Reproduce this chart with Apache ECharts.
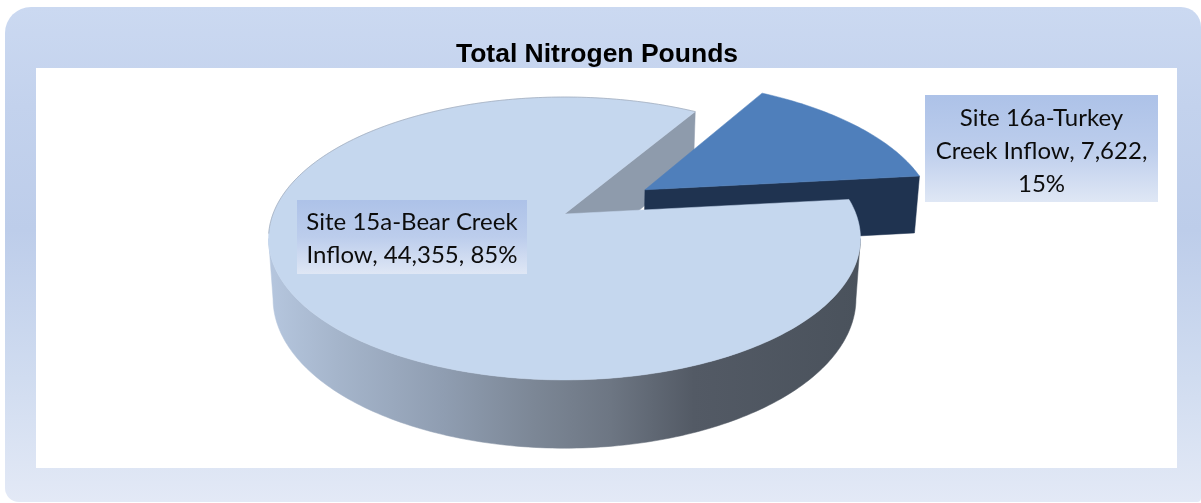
<!DOCTYPE html>
<html><head><meta charset="utf-8">
<style>html,body{margin:0;padding:0;background:#fff}#c{width:1201px;height:503px}</style>
<script src="https://cdn.jsdelivr.net/npm/echarts@6/dist/echarts.min.js"></script>
</head><body><div id="c"></div>
<script>
const chartTitle = 'Total Nitrogen Pounds';
const sites = ['Site 15a-Bear Creek Inflow', 'Site 16a-Turkey Creek Inflow'];
const pounds = [44355, 7622];
const percents = [85, 15];
const labelTexts = ['Site 15a-Bear Creek\nInflow, 44,355, 85%', 'Site 16a-Turkey\nCreek Inflow, 7,622,\n15%'];

// view model of the tilted disc
const C = {x: 564.5, y: 214}, RX = 291.5, RY = 137.2, K = 0.173, M = 0.015, H = 60;
const EXPLODE = [0, 0.338];
const TURKEY_START = 31;
const BOXES = [[297, 200, 230, 74], [925, 95, 233, 107]];
const LABEL_DY = [2, 3];
const total = pounds[0] + pounds[1];
const span = pounds[1] / total * 360;
const sweep = [[TURKEY_START + span, TURKEY_START + 360], [TURKEY_START, TURKEY_START + span]];

function proj(u, v, z) {
  const w = 1 - K * v + M * z;
  return [C.x + RX * u / w, C.y + (RY * v + H * z) / w];
}
function offset(i) {
  const mid = (sweep[i][0] + sweep[i][1]) / 2 * Math.PI / 180;
  return [EXPLODE[i] * Math.sin(mid), -EXPLODE[i] * Math.cos(mid)];
}
function rim(i, deg, z) {
  const a = deg * Math.PI / 180, o = offset(i);
  return proj(o[0] + Math.sin(a), o[1] - Math.cos(a), z);
}
function apex(i, z) { const o = offset(i); return proj(o[0], o[1], z); }
function arc(i, from, to, z) {
  const pts = [], n = Math.max(2, Math.ceil(Math.abs(to - from)));
  for (let s = 0; s <= n; s++) pts.push(rim(i, from + (to - from) * s / n, z));
  return pts;
}
const wallGrad = new echarts.graphic.LinearGradient(266, 0, 860, 0, [
  {offset: 0, color: '#b6c7df'}, {offset: 0.12, color: '#a5b5cb'}, {offset: 0.3, color: '#8f9db1'},
  {offset: 0.45, color: '#7c8796'}, {offset: 0.58, color: '#6d7683'}, {offset: 0.72, color: '#535a65'},
  {offset: 1, color: '#4a525c'}], true);
const boxGrad = new echarts.graphic.LinearGradient(0, 0, 0, 1, [
  {offset: 0, color: '#adc2e8'}, {offset: 0.5, color: '#bccdec'}, {offset: 1, color: '#dfe7f5'}]);

function poly(points, fill, z2) {
  return {type: 'polygon', z2, shape: {points}, style: {fill, stroke: fill, lineWidth: 0.5}};
}
function renderItem(params, api) {
  const i = params.dataIndex, kids = [];
  const [a0, a1] = sweep[i];
  if (i === 0) {
    kids.push(poly([apex(0, 0), rim(0, a1, 0), rim(0, a1, 1), apex(0, 1)], '#8e9bac', 1));
    const top = arc(0, 100, 260, 0), bottom = arc(0, 260, 100, 1);
    kids.push(poly(top.concat(bottom), wallGrad, 5));
    kids.push(poly([apex(0, 0)].concat(arc(0, a0, a1, 0)), '#c5d7ee', 6));
    kids.push({type: 'polyline', z2: 7, shape: {points: arc(0, 262, a1, 0)},
      style: {fill: null, stroke: 'rgba(150,160,175,0.6)', lineWidth: 1}});
  } else {
    kids.push(poly([apex(1, 0), rim(1, a1, 0), rim(1, a1, 1), apex(1, 1)], '#1f3350', 2));
    kids.push(poly([apex(1, 0)].concat(arc(1, a0, a1, 0)), '#4f7fbb', 3));
  }
  const b = BOXES[i];
  kids.push({type: 'rect', z2: 10, shape: {x: b[0], y: b[1], width: b[2], height: b[3]}, style: {fill: boxGrad}});
  kids.push({type: 'text', z2: 11, style: {
    x: b[0] + b[2] / 2, y: b[1] + b[3] / 2 + LABEL_DY[i], text: labelTexts[i], align: 'center', verticalAlign: 'middle',
    font: '24px Lato', lineHeight: 33, fill: '#0c0c0c'}});
  return {type: 'group', children: kids};
}

const chart = echarts.init(document.getElementById('c'), null, {renderer: 'canvas'});
chart.setOption({
  animation: false,
  backgroundColor: '#fff',
  title: {text: chartTitle, left: 592, top: 36, textAlign: 'center',
    textStyle: {fontFamily: 'Liberation Sans', fontWeight: 'bold', fontSize: 26.5, color: '#000'}},
  graphic: [
    {type: 'rect', z: -2, shape: {x: 5, y: 7, width: 1196, height: 495, r: [26, 20, 4, 14]},
      style: {fill: new echarts.graphic.LinearGradient(0, 0, 0, 1, [
        {offset: 0, color: '#cbd9f1'}, {offset: 0.2, color: '#c3d2ed'}, {offset: 0.45, color: '#bdcdea'},
        {offset: 0.75, color: '#d0dcf0'}, {offset: 1, color: '#e3e9f6'}])}},
    {type: 'rect', z: -1, shape: {x: 36, y: 68, width: 1141, height: 400}, style: {fill: '#fff'}}
  ],
  series: [{
    type: 'custom', coordinateSystem: 'none', renderItem, silent: true,
    data: sites.map((name, i) => ({name, value: [pounds[i], percents[i]]}))
  }]
});
</script></body></html>
